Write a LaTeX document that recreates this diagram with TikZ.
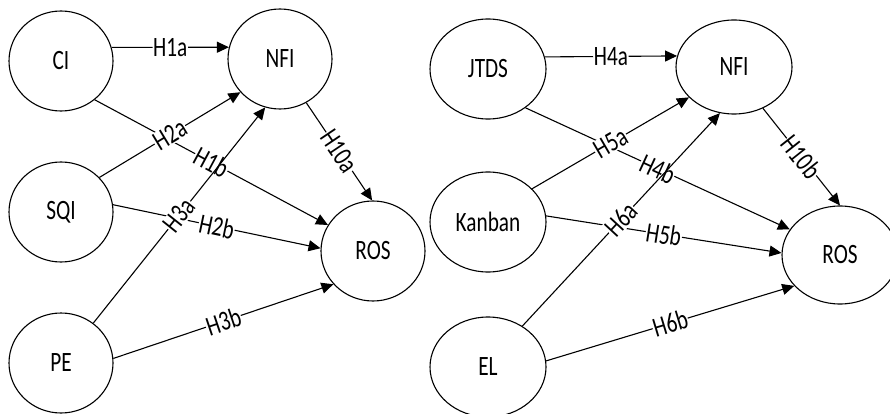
\documentclass[tikz,border=0pt]{standalone}
\usepackage{fontspec}
\setmainfont{Carlito}[FakeStretch=0.76]
\usetikzlibrary{arrows.meta,shapes.geometric}
\tikzset{
  var/.style={draw, ellipse, line width=1.1pt, inner sep=0pt, font=\fontsize{28}{30}\selectfont},
  small/.style={var, minimum width=104pt, minimum height=100pt},
  wide/.style={var, minimum width=116pt, minimum height=100pt},
  conn/.style={line width=1.1pt, -{Triangle[length=12pt,width=11pt]}},
  lab/.style={midway, sloped, fill=white, inner sep=0.6pt, font=\fontsize{28}{30}\selectfont}
}
\begin{document}
\begin{tikzpicture}[x=1pt,y=-1pt]
\useasboundingbox (0,0) rectangle (890,414);
% left model
\node[small] (CI)   at (61,61)   {CI};
\node[small] (NFI1) at (280,59)  {NFI};
\node[small] (SQI)  at (61,212)  {SQI};
\node[small] (PE)   at (61,363)  {PE};
\node[small] (ROS1) at (373,251) {ROS};
\draw[conn] (CI.15)  -- node[lab] {H1a} (NFI1.167);
\draw[conn] (CI.-49) -- node[lab] {H1b} (ROS1.150);
\draw[conn] (SQI.42) -- node[lab] {H2a} (NFI1.220);
\draw[conn] (SQI.8)  -- node[lab] {H2b} (ROS1.177);
\draw[conn] (PE.51)  -- node[lab] {H3a} (NFI1.253);
\draw[conn] (PE.5)   -- node[lab] {H3b} (ROS1.220);
\draw[conn] (NFI1.-59) -- node[lab] {H10a} (ROS1.91);
% right model
\node[wide] (JTDS)   at (488,69)  {JTDS};
\node[wide, minimum height=94pt] (NFI2) at (734,67) {NFI};
\node[wide] (Kanban) at (488,222) {Kanban};
\node[wide] (EL)     at (488,367) {EL};
\node[wide, minimum height=98pt] (ROS2) at (840,255) {ROS};
\draw[conn] (JTDS.12)   -- node[lab] {H4a} (NFI2.169);
\draw[conn] (JTDS.-46)  -- node[lab] {H4b} (ROS2.153);
\draw[conn] (Kanban.37) -- node[lab] {H5a} (NFI2.214);
\draw[conn] (Kanban.6)  -- node[lab] {H5b} (ROS2.178);
\draw[conn] (EL.50)     -- node[lab] {H6a} (NFI2.253);
\draw[conn] (EL.6)      -- node[lab] {H6b} (ROS2.214);
\draw[conn] (NFI2.-55)  -- node[lab] {H10b} (ROS2.90);
\end{tikzpicture}
\end{document}
